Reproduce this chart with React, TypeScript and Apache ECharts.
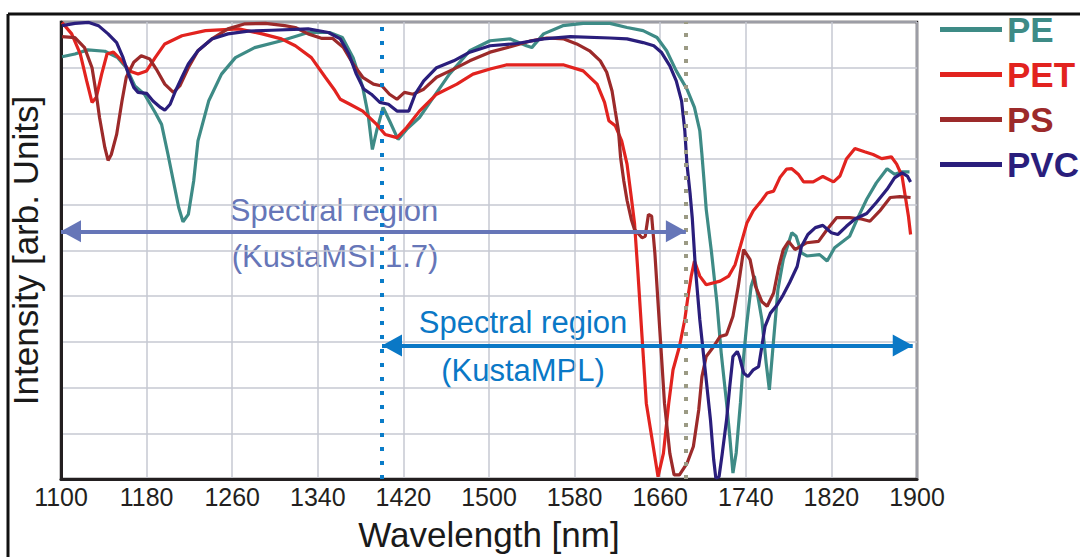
import React, { useEffect, useRef } from "react";
import * as echarts from "echarts";

const seriesNames = ["PE", "PET", "PS", "PVC"];
const seriesColors = ["#3E8B86", "#E2231F", "#9C2A2A", "#2A1E7C"];

const xTicks = { min: 1100, max: 1900, step: 80 };

const pe: [number, number][] = [[1101,9.24],[1113,9.30],[1125,9.39],[1141,9.36],[1153,9.22],[1161,9.0],[1169,8.6],[1178,8.42],[1188,8.02],[1194,7.76],[1200,7.1],[1205,6.52],[1210,5.94],[1214,5.63],[1219,5.79],[1224,6.52],[1228,7.4],[1238,8.27],[1250,8.86],[1263,9.22],[1281,9.44],[1306,9.59],[1331,9.77],[1351,9.77],[1363,9.66],[1373,9.22],[1382,8.57],[1387,7.98],[1391,7.21],[1395,7.62],[1401,8.13],[1407,7.84],[1415,7.43],[1423,7.65],[1435,7.91],[1448,8.35],[1463,8.86],[1482,9.37],[1501,9.59],[1520,9.63],[1535,9.48],[1540,9.44],[1551,9.74],[1569,9.92],[1588,9.97],[1613,9.97],[1629,9.88],[1644,9.81],[1657,9.66],[1666,9.37],[1675,8.93],[1685,8.53],[1692,8.13],[1697,7.62],[1699,7.1],[1701,6.52],[1703,5.9],[1708,4.95],[1713,3.86],[1717,2.76],[1722,1.67],[1725,0.93],[1728,0.13],[1731,0.57],[1735,1.67],[1738,2.68],[1741,3.42],[1745,4.22],[1748,4.44],[1755,3.49],[1759,2.54],[1762,1.95],[1766,3.05],[1770,4.14],[1775,4.8],[1783,5.39],[1787,5.31],[1792,4.95],[1797,4.88],[1809,4.91],[1816,4.77],[1823,5.06],[1837,5.31],[1844,5.68],[1853,6.12],[1862,6.48],[1872,6.79],[1879,6.67],[1886,6.72],[1893,6.72]];

const pet: [number, number][] = [[1101,9.99],[1110,9.74],[1118,9.3],[1124,8.71],[1129,8.24],[1133,8.35],[1138,8.86],[1143,9.3],[1149,9.34],[1157,9.15],[1164,8.93],[1172,8.86],[1180,8.93],[1188,9.22],[1197,9.52],[1213,9.7],[1235,9.81],[1266,9.85],[1288,9.74],[1306,9.63],[1319,9.48],[1334,9.22],[1347,8.79],[1356,8.5],[1361,8.31],[1370,8.2],[1382,8.05],[1395,7.76],[1403,7.54],[1414,7.47],[1423,7.69],[1435,8.05],[1451,8.42],[1470,8.64],[1485,8.86],[1501,8.97],[1516,9.06],[1551,9.06],[1570,9.06],[1588,8.93],[1601,8.64],[1608,8.24],[1612,7.84],[1618,7.73],[1624,7.4],[1629,6.89],[1633,6.16],[1636,5.6],[1639,4.58],[1643,3.12],[1647,1.66],[1652,0.93],[1658,0.05],[1663,0.56],[1668,1.66],[1672,2.39],[1678,2.9],[1683,3.49],[1686,4.0],[1689,4.44],[1692,4.77],[1697,4.44],[1703,4.25],[1716,4.33],[1724,4.44],[1730,4.69],[1735,5.1],[1741,5.6],[1747,5.87],[1755,6.1],[1760,6.26],[1766,6.3],[1772,6.6],[1778,6.78],[1783,6.79],[1789,6.67],[1794,6.5],[1803,6.5],[1812,6.62],[1822,6.5],[1828,6.63],[1834,7.0],[1842,7.23],[1851,7.16],[1859,7.1],[1867,7.01],[1876,7.05],[1881,6.89],[1886,6.63],[1889,6.19],[1892,5.75],[1894,5.35]];

const ps: [number, number][] = [[1101,9.68],[1113,9.66],[1122,9.44],[1129,9.0],[1133,8.42],[1136,7.91],[1141,7.25],[1144,6.97],[1147,7.1],[1152,7.54],[1157,8.27],[1161,8.79],[1168,9.12],[1175,9.26],[1183,9.19],[1189,8.97],[1197,8.64],[1205,8.46],[1211,8.6],[1219,9.0],[1228,9.37],[1241,9.63],[1256,9.85],[1272,9.96],[1291,9.97],[1309,9.92],[1319,9.88],[1331,9.74],[1344,9.64],[1354,9.64],[1364,9.44],[1373,9.08],[1382,8.79],[1392,8.64],[1400,8.6],[1407,8.42],[1414,8.31],[1421,8.46],[1429,8.42],[1439,8.53],[1451,8.79],[1467,8.97],[1482,9.15],[1501,9.34],[1520,9.46],[1538,9.58],[1554,9.65],[1570,9.63],[1582,9.52],[1594,9.37],[1604,9.15],[1610,8.9],[1615,8.49],[1618,8.05],[1621,7.62],[1623,7.03],[1626,6.52],[1629,6.1],[1633,5.68],[1636,5.46],[1643,5.28],[1646,5.31],[1649,5.79],[1652,5.75],[1655,4.95],[1658,3.85],[1661,2.76],[1664,1.66],[1669,0.56],[1673,0.09],[1678,0.09],[1685,0.34],[1691,0.71],[1696,1.51],[1699,2.24],[1703,2.68],[1710,2.9],[1716,3.12],[1722,3.16],[1728,3.56],[1733,4.22],[1738,5.02],[1744,4.8],[1749,4.22],[1755,3.88],[1760,3.78],[1766,4.07],[1771,4.66],[1775,5.02],[1780,5.2],[1786,5.02],[1797,5.17],[1808,5.2],[1816,5.46],[1825,5.72],[1837,5.72],[1848,5.69],[1856,5.64],[1865,5.86],[1875,6.16],[1884,6.18],[1894,6.16]];

const pvc: [number, number][] = [[1101,9.92],[1113,9.97],[1126,9.99],[1135,9.92],[1144,9.74],[1152,9.55],[1158,9.22],[1163,8.86],[1168,8.57],[1172,8.46],[1180,8.44],[1186,8.27],[1193,8.13],[1197,8.07],[1202,8.2],[1207,8.49],[1213,8.79],[1219,9.08],[1228,9.37],[1241,9.63],[1256,9.74],[1275,9.8],[1297,9.82],[1331,9.85],[1350,9.77],[1361,9.63],[1369,9.3],[1376,8.86],[1383,8.53],[1390,8.42],[1398,8.24],[1406,8.2],[1414,8.05],[1425,8.05],[1431,8.42],[1439,8.71],[1451,9.0],[1467,9.15],[1482,9.34],[1501,9.48],[1526,9.53],[1551,9.63],[1576,9.68],[1613,9.65],[1629,9.63],[1644,9.55],[1654,9.48],[1661,9.34],[1669,9.04],[1675,8.71],[1680,8.27],[1683,7.62],[1685,6.89],[1688,6.23],[1690,5.7],[1693,4.58],[1697,3.49],[1702,2.39],[1707,1.29],[1710,0.42],[1712,0.02],[1715,0.05],[1718,0.56],[1722,1.29],[1725,2.02],[1728,2.68],[1732,2.79],[1734,2.68],[1738,2.32],[1742,2.24],[1747,2.39],[1752,2.46],[1755,2.9],[1758,3.34],[1763,3.63],[1769,3.8],[1775,4.03],[1781,4.3],[1788,4.65],[1792,5.09],[1798,5.35],[1805,5.5],[1812,5.55],[1820,5.39],[1826,5.35],[1834,5.53],[1842,5.69],[1853,5.81],[1862,6.05],[1872,6.34],[1879,6.59],[1886,6.7],[1891,6.63],[1894,6.5]];

const seriesData = [pe, pet, ps, pvc];

// annotation values (nm, intensity)
const msiLine = 1684;
const mplLine = 1400;
const msiArrow = { from: 1100, to: 1684, y: 5.42 };
const mplArrow = { from: 1400, to: 1896, y: 2.92 };

const FONT = "'Liberation Sans', Arial, Helvetica, sans-serif";
const MSI_COLOR = "#6676B8";
const MPL_COLOR = "#0A78C6";

export default function App() {
  const ref = useRef<HTMLDivElement>(null);
  useEffect(() => {
    if (!ref.current) return;
    const chart = echarts.init(ref.current, undefined, { renderer: "svg" });
    const arrowCommon = { symbol: "triangle", symbolSize: [22, 20], symbolOffset: [0, 10] };
    chart.setOption({
      animation: false,
      backgroundColor: "#ffffff",
      textStyle: { fontFamily: FONT },
      grid: {
        left: 61, top: 22, right: 163, bottom: 78,
        show: true, borderColor: "#231F20", borderWidth: 2.5, backgroundColor: "transparent",
      },
      legend: {
        data: seriesNames.map((n, i) => ({ name: n, textStyle: { color: seriesColors[i] } })),
        orient: "vertical", left: 935, top: 7,
        itemWidth: 62, itemHeight: 5, itemGap: 10, icon: "rect", selectedMode: false,
        textStyle: { fontSize: 35, fontWeight: "bold", fontFamily: FONT },
      },
      xAxis: {
        type: "value", min: xTicks.min, max: xTicks.max, interval: xTicks.step,
        name: "Wavelength [nm]", nameLocation: "middle", nameGap: 38,
        nameTextStyle: { fontSize: 35, color: "#1A1A1A", fontFamily: FONT },
        axisLine: { show: true, lineStyle: { color: "#231F20", width: 3 } },
        axisTick: { show: false },
        axisLabel: { fontSize: 25, color: "#231F20", margin: 5, fontFamily: FONT, formatter: (v: number) => String(v) },
        splitLine: { show: true, lineStyle: { color: "#C6C8D2", width: 1.5 } },
      },
      yAxis: {
        type: "value", min: 0, max: 10, interval: 1,
        name: "Intensity [arb. Units]", nameLocation: "middle", nameGap: 18,
        nameTextStyle: { fontSize: 35, color: "#1A1A1A", fontFamily: FONT },
        axisLine: { show: true, lineStyle: { color: "#231F20", width: 3 } },
        axisTick: { show: false },
        axisLabel: { show: false },
        splitLine: { show: true, lineStyle: { color: "#C6C8D2", width: 1.5 } },
      },
      series: [
        ...seriesNames.map((n, i) => ({
          name: n, type: "line", data: seriesData[i], showSymbol: false, symbol: "none",
          color: seriesColors[i], lineStyle: { width: 3.2, color: seriesColors[i] }, z: 3,
        })),
        {
          name: "annot", type: "line", data: [], z: 5, silent: true,
          markLine: {
            silent: true, animation: false, label: { show: false },
            symbol: "none",
            data: [
              { xAxis: mplLine, symbol: "none", lineStyle: { color: "#0A7CC8", width: 4, type: [4, 10] } },
              { xAxis: msiLine, symbol: "none", lineStyle: { color: "#9B9A84", width: 4, type: [4, 9] } },
              [
                { coord: [msiArrow.from, msiArrow.y], ...arrowCommon, lineStyle: { color: MSI_COLOR, width: 4, type: "solid" } },
                { coord: [msiArrow.to, msiArrow.y], ...arrowCommon },
              ],
              [
                { coord: [mplArrow.from, mplArrow.y], ...arrowCommon, lineStyle: { color: MPL_COLOR, width: 4, type: "solid" } },
                { coord: [mplArrow.to, mplArrow.y], ...arrowCommon },
              ],
            ],
          },
        },
      ],
      graphic: [
        { type: "line", shape: { x1: 8, y1: 14, x2: 1080, y2: 14 }, style: { stroke: "#111", lineWidth: 3 } },
        { type: "line", shape: { x1: 8, y1: 14, x2: 8, y2: 557 }, style: { stroke: "#111", lineWidth: 3 } },
        { type: "text", x: 334, y: 210, style: { text: "Spectral region", fill: MSI_COLOR, fontSize: 31, fontFamily: FONT, align: "center", verticalAlign: "middle" } },
        { type: "text", x: 335, y: 256, style: { text: "(KustaMSI 1.7)", fill: MSI_COLOR, fontSize: 31, fontFamily: FONT, align: "center", verticalAlign: "middle" } },
        { type: "text", x: 523, y: 322, style: { text: "Spectral region", fill: MPL_COLOR, fontSize: 31, fontFamily: FONT, align: "center", verticalAlign: "middle" } },
        { type: "text", x: 523, y: 370, style: { text: "(KustaMPL)", fill: MPL_COLOR, fontSize: 31, fontFamily: FONT, align: "center", verticalAlign: "middle" } },
      ],
    });
    return () => chart.dispose();
  }, []);
  return <div ref={ref} style={{ position: "fixed", left: 0, top: 0, width: 1080, height: 557, background: "#fff" }} />;
}
